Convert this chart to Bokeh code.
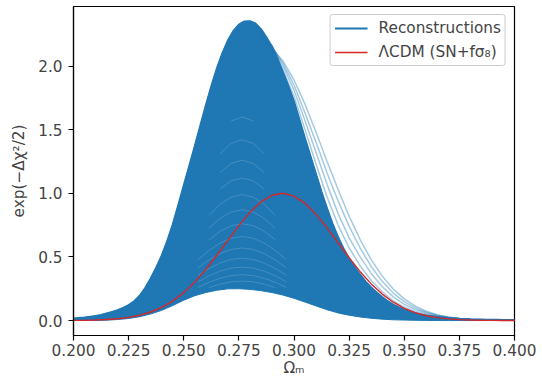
from bokeh.plotting import figure
from bokeh.models import Range1d, FixedTicker, NumeralTickFormatter, Legend, LegendItem
from bokeh.embed import file_html
from bokeh.resources import INLINE

nan = float("nan")

# Omega_m grids (x values)
omega = [0.200, 0.205, 0.210, 0.215, 0.220, 0.225, 0.230, 0.235, 0.240, 0.245,
         0.250, 0.255, 0.260, 0.265, 0.270, 0.275, 0.280, 0.285, 0.290, 0.295,
         0.300, 0.305, 0.310, 0.315, 0.320, 0.325, 0.330, 0.335, 0.340, 0.345,
         0.350, 0.355, 0.360, 0.365, 0.370, 0.375, 0.380, 0.385, 0.390, 0.395,
         0.400]
omega_fine = [0.2000, 0.2025, 0.2050, 0.2075, 0.2100, 0.2125, 0.2150, 0.2175, 0.2200, 0.2225,
              0.2250, 0.2275, 0.2300, 0.2325, 0.2350, 0.2375, 0.2400, 0.2425, 0.2450, 0.2475,
              0.2500, 0.2525, 0.2550, 0.2575, 0.2600, 0.2625, 0.2650, 0.2675, 0.2700, 0.2725,
              0.2750, 0.2775, 0.2800, 0.2825, 0.2850, 0.2875, 0.2900, 0.2925, 0.2950, 0.2975,
              0.3000, 0.3025, 0.3050, 0.3075, 0.3100, 0.3125, 0.3150, 0.3175, 0.3200, 0.3225,
              0.3250, 0.3275, 0.3300, 0.3325, 0.3350, 0.3375, 0.3400, 0.3425, 0.3450, 0.3475,
              0.3500, 0.3525, 0.3550, 0.3575, 0.3600, 0.3625, 0.3650, 0.3675, 0.3700, 0.3725,
              0.3750, 0.3775, 0.3800, 0.3825, 0.3850, 0.3875, 0.3900, 0.3925, 0.3950, 0.3975,
              0.4000]

# upper envelope of the dense reconstruction bundle (on omega_fine)
recon_upper = [0.016, 0.020, 0.024, 0.029, 0.035, 0.044, 0.056, 0.068, 0.082, 0.100,
               0.122, 0.152, 0.195, 0.255, 0.330, 0.415, 0.510, 0.625, 0.755, 0.905,
               1.060, 1.215, 1.370, 1.530, 1.690, 1.840, 1.980, 2.100, 2.200, 2.275,
               2.325, 2.350, 2.352, 2.335, 2.290, 2.225, 2.150, 2.055, 1.950, 1.840,
               1.720, 1.575, 1.430, 1.290, 1.150, 1.010, 0.880, 0.760, 0.655, 0.565,
               0.485, 0.420, 0.360, 0.305, 0.260, 0.220, 0.185, 0.152, 0.125, 0.103,
               0.085, 0.070, 0.058, 0.048, 0.040, 0.034, 0.028, 0.024, 0.020, 0.017,
               0.014, 0.012, 0.010, 0.009, 0.008, 0.007, 0.006, 0.0055, 0.005, 0.0045,
               0.004]
# lower envelope of the bundle (on omega)
recon_lower = [0.000, 0.000, 0.001, 0.003, 0.008, 0.016, 0.030, 0.052, 0.080, 0.118,
               0.160, 0.195, 0.220, 0.238, 0.249, 0.250, 0.245, 0.235, 0.220, 0.200,
               0.175, 0.145, 0.115, 0.085, 0.060, 0.042, 0.028, 0.018, 0.011, 0.006,
               0.004, 0.002, 0.001, 0.000, 0.000, 0.000, 0.000, 0.000, 0.000, 0.000,
               0.000]

# reconstructions whose right-hand tails stand out from the bundle
tail_omega = [0.285, 0.290, 0.295, 0.300, 0.305, 0.310, 0.315, 0.320, 0.325, 0.330,
              0.335, 0.340, 0.345, 0.350, 0.355, 0.360, 0.365, 0.370, 0.375, 0.380]
recon_tail_a = [2.26, 2.16, 1.97, 1.76, 1.50, 1.23, 0.97, 0.75, 0.57, 0.43,
                0.315, 0.226, 0.155, 0.106, 0.072, 0.048, 0.033, 0.022, 0.015, 0.010]
recon_tail_b = [2.24, 2.16, 2.00, 1.81, 1.57, 1.32, 1.07, 0.84, 0.65, 0.50,
                0.370, 0.267, 0.186, 0.128, 0.086, 0.057, 0.037, 0.024, 0.016, 0.010]
recon_tail_c = [2.21, 2.15, 2.02, 1.85, 1.63, 1.40, 1.16, 0.94, 0.74, 0.57,
                0.425, 0.308, 0.216, 0.149, 0.099, 0.065, 0.042, 0.026, 0.016, 0.010]
recon_tail_d = [2.18, 2.14, 2.04, 1.89, 1.70, 1.48, 1.25, 1.03, 0.82, 0.636,
                0.479, 0.349, 0.247, 0.170, 0.113, 0.073, 0.046, 0.028, 0.017, 0.010]

# crests of individual reconstructions seen as faint arches inside the bundle
crest_omega = [0.2515, 0.2565, 0.2615, 0.2665, 0.2715, 0.2765,
               0.2815, 0.2865, 0.2915, 0.2965, 0.3015]
crests = [
    [nan, nan, 0.259, 0.286, 0.304, 0.310, 0.304, 0.286, 0.259, nan, nan],
    [nan, 0.261, 0.301, 0.332, 0.353, 0.360, 0.353, 0.332, 0.301, 0.261, nan],
    [nan, 0.305, 0.351, 0.388, 0.412, 0.420, 0.412, 0.388, 0.351, 0.305, nan],
    [nan, 0.356, 0.409, 0.452, 0.480, 0.490, 0.480, 0.452, 0.409, 0.356, nan],
    [nan, 0.414, 0.476, 0.526, 0.559, 0.570, 0.559, 0.526, 0.476, 0.414, nan],
    [nan, 0.479, 0.551, 0.609, 0.647, 0.660, 0.647, 0.609, 0.551, 0.479, nan],
    [nan, nan, 0.635, 0.701, 0.745, 0.760, 0.745, 0.701, 0.635, nan, nan],
    [nan, nan, 0.726, 0.803, 0.853, 0.870, 0.853, 0.803, 0.726, nan, nan],
    [nan, nan, 0.827, 0.914, 0.970, 0.990, 0.970, 0.914, 0.827, nan, nan],
    [nan, nan, nan, 1.034, 1.098, 1.120, 1.098, 1.034, nan, nan, nan],
    [nan, nan, nan, 1.163, 1.235, 1.260, 1.235, 1.163, nan, nan, nan],
    [nan, nan, nan, 1.311, 1.392, 1.420, 1.392, 1.311, nan, nan, nan],
    [nan, nan, nan, nan, 1.568, 1.600, 1.568, nan, nan, nan, nan],
]

# LambdaCDM (SN + f sigma8) likelihood (on omega)
lcdm = [0.001, 0.002, 0.004, 0.008, 0.014, 0.025, 0.042, 0.067, 0.103, 0.153,
        0.219, 0.302, 0.401, 0.513, 0.630, 0.746, 0.850, 0.932, 0.984, 1.000,
        0.978, 0.921, 0.834, 0.728, 0.611, 0.494, 0.384, 0.288, 0.208, 0.144,
        0.096, 0.062, 0.038, 0.023, 0.013, 0.007, 0.004, 0.002, 0.001, 0.0005,
        0.0002]

x_ticks = [0.200, 0.225, 0.250, 0.275, 0.300, 0.325, 0.350, 0.375, 0.400]
y_ticks = [0.0, 0.5, 1.0, 1.5, 2.0]

BLUE = "#1f77b4"
RED = "#d62728"
FONT = "DejaVu Sans"
FS = "15.3px"

p = figure(width=542, height=381, output_backend="svg", toolbar_location=None,
           x_range=Range1d(0.2, 0.4), y_range=Range1d(-0.1175, 2.4675),
           min_border_left=73, min_border_right=28, min_border_top=6,
           min_border_bottom=46)

p.xgrid.visible = False
p.ygrid.visible = False
p.outline_line_color = "black"
p.outline_line_width = 1.2
p.outline_line_alpha = 1.0
p.background_fill_color = "white"
p.border_fill_color = "white"

# dense bundle: area between the lower and upper envelopes
p.patch(x=omega_fine + omega[::-1], y=recon_upper + recon_lower[::-1],
        fill_color=BLUE, fill_alpha=1.0, line_color=BLUE, line_width=1)
r_blue = p.line(x=omega_fine, y=recon_upper, line_color=BLUE, line_width=2)
for crest in crests:
    p.line(x=crest_omega, y=crest, line_color="white", line_alpha=0.17, line_width=1)
for tail in (recon_tail_a, recon_tail_b, recon_tail_c, recon_tail_d):
    p.line(x=tail_omega, y=tail, line_color=BLUE, line_alpha=0.4, line_width=1.5)

r_red = p.line(x=omega, y=lcdm, line_color=RED, line_width=1.4)

for ax in (p.xaxis[0], p.yaxis[0]):
    ax.major_label_text_font = FONT
    ax.major_label_text_font_size = FS
    ax.axis_label_text_font = FONT
    ax.axis_label_text_font_size = FS
    ax.axis_label_text_font_style = "normal"
    ax.axis_line_color = "black"
    ax.axis_line_width = 1.2
    ax.major_tick_line_color = "black"
    ax.major_tick_line_width = 1.2
    ax.major_tick_in = 0
    ax.major_tick_out = 5
    ax.minor_tick_line_color = None

p.xaxis[0].ticker = FixedTicker(ticks=x_ticks)
p.xaxis[0].formatter = NumeralTickFormatter(format="0.000")
p.xaxis[0].axis_label = "Ωₘ"
p.xaxis[0].major_label_standoff = 3
p.xaxis[0].axis_label_standoff = 0

p.yaxis[0].ticker = FixedTicker(ticks=y_ticks)
p.yaxis[0].formatter = NumeralTickFormatter(format="0.0")
p.yaxis[0].axis_label = "exp(−Δχ²/2)"
p.yaxis[0].major_label_standoff = 6
p.yaxis[0].axis_label_standoff = 7

legend = Legend(items=[LegendItem(label="Reconstructions", renderers=[r_blue]),
                       LegendItem(label="ΛCDM (SN+fσ₈)", renderers=[r_red])],
                location="top_right")
legend.margin = 8
legend.padding = 4
legend.spacing = 6
legend.label_height = 18
legend.glyph_height = 18
legend.glyph_width = 33
legend.label_standoff = 11
legend.label_text_font = FONT
legend.label_text_font_size = FS
legend.border_line_color = "#cccccc"
legend.border_line_width = 1
legend.border_line_alpha = 1.0
legend.background_fill_color = "white"
legend.background_fill_alpha = 0.8
if "border_radius" in Legend.properties():
    legend.border_radius = 3
p.add_layout(legend)

open("out.html", "w").write(file_html(p, INLINE))
